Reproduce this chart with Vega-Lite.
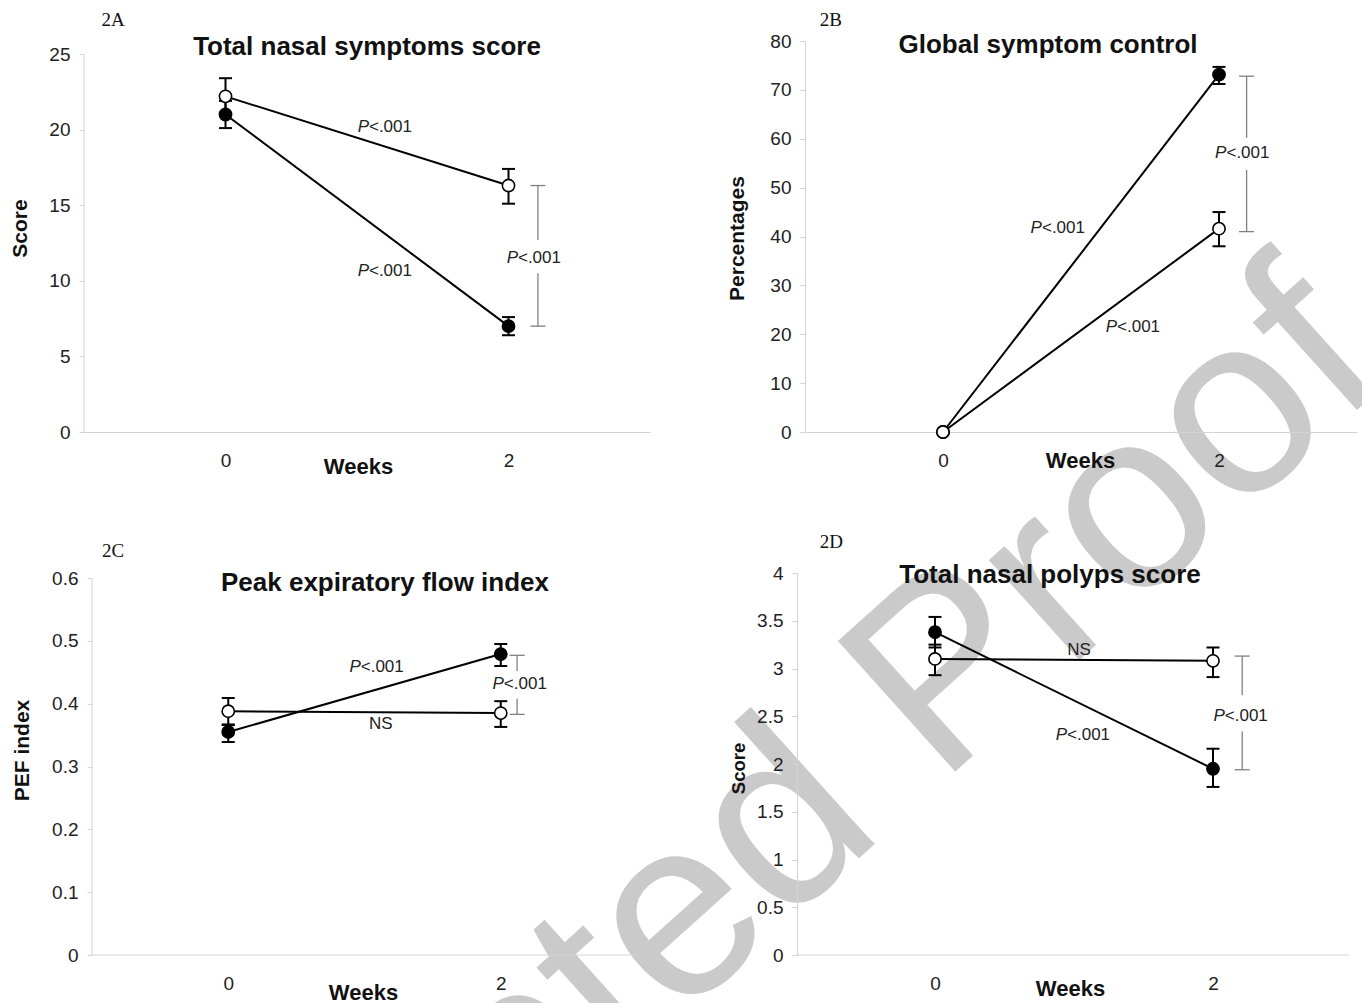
{
  "$schema": "https://vega.github.io/schema/vega-lite/v6.json",
  "padding": {"left": -40, "top": 10, "right": 0, "bottom": 0},
  "background": "white",
  "datasets": {
    "pts": [
      {"p": "A", "g": "filled", "x": 0, "y": 21.0, "lo": 20.1, "hi": 21.9},
      {"p": "A", "g": "filled", "x": 2, "y": 7.0, "lo": 6.4, "hi": 7.6},
      {"p": "A", "g": "open", "x": 0, "y": 22.2, "lo": 21.1, "hi": 23.4},
      {"p": "A", "g": "open", "x": 2, "y": 16.3, "lo": 15.1, "hi": 17.4},
      {"p": "B", "g": "filled", "x": 0, "y": 0, "lo": 0, "hi": 0},
      {"p": "B", "g": "filled", "x": 2, "y": 73.1, "lo": 71.2, "hi": 74.7},
      {"p": "B", "g": "open", "x": 0, "y": 0, "lo": 0, "hi": 0},
      {"p": "B", "g": "open", "x": 2, "y": 41.6, "lo": 38.0, "hi": 45.0},
      {"p": "C", "g": "filled", "x": 0, "y": 0.355, "lo": 0.339, "hi": 0.367},
      {"p": "C", "g": "filled", "x": 2, "y": 0.479, "lo": 0.46, "hi": 0.495},
      {"p": "C", "g": "open", "x": 0, "y": 0.388, "lo": 0.366, "hi": 0.409},
      {"p": "C", "g": "open", "x": 2, "y": 0.385, "lo": 0.363, "hi": 0.404},
      {"p": "D", "g": "filled", "x": 0, "y": 3.38, "lo": 3.22, "hi": 3.54},
      {"p": "D", "g": "filled", "x": 2, "y": 1.95, "lo": 1.76, "hi": 2.16},
      {"p": "D", "g": "open", "x": 0, "y": 3.10, "lo": 2.93, "hi": 3.25},
      {"p": "D", "g": "open", "x": 2, "y": 3.08, "lo": 2.91, "hi": 3.22}
    ],
    "ann": [
      {"p": "A", "x": 1.127, "y": 20.2, "label": "P<.001"},
      {"p": "A", "x": 1.127, "y": 10.65, "label": "P<.001"},
      {"p": "A", "x": 2.18, "y": 11.5, "label": "P<.001"},
      {"p": "B", "x": 0.833, "y": 41.7, "label": "P<.001"},
      {"p": "B", "x": 1.377, "y": 21.5, "label": "P<.001"},
      {"p": "B", "x": 2.17, "y": 57.0, "label": "P<.001"},
      {"p": "C", "x": 1.09, "y": 0.458, "label": "P<.001"},
      {"p": "C", "x": 1.12, "y": 0.368, "label": "NS"},
      {"p": "C", "x": 2.14, "y": 0.431, "label": "P<.001"},
      {"p": "D", "x": 1.036, "y": 3.19, "label": "NS"},
      {"p": "D", "x": 1.065, "y": 2.30, "label": "P<.001"},
      {"p": "D", "x": 2.20, "y": 2.50, "label": "P<.001"}
    ],
    "brk": [
      {"p": "A", "x": 2.208, "top": 16.3, "gt": 12.7, "gb": 10.5, "bot": 7.0},
      {"p": "B", "x": 2.20, "top": 72.8, "gt": 60.2, "gb": 53.6, "bot": 41.0},
      {"p": "C", "x": 2.12, "top": 0.477, "gt": 0.452, "gb": 0.408, "bot": 0.383},
      {"p": "D", "x": 2.21, "top": 3.13, "gt": 2.72, "gb": 2.34, "bot": 1.94}
    ],
    "tags": [
      {"p": "A", "x": -0.795, "y": 27.25, "t": "2A"},
      {"p": "B", "x": -0.812, "y": 84.3, "t": "2B"},
      {"p": "C", "x": -0.846, "y": 0.643, "t": "2C"},
      {"p": "D", "x": -0.746, "y": 4.325, "t": "2D"}
    ],
    "axl": [
      {"p": "A", "x": -1, "y": 0, "x2": -1, "y2": 25},
      {"p": "C", "x": -1, "y": 0, "x2": -1, "y2": 0.6},
      {"p": "C", "x": -1, "y": 0, "x2": 3, "y2": 0},
      {"p": "D", "x": -1, "y": 0, "x2": 2.978, "y2": 0}
    ],
    "wm": [
      {"w": "Accepted Proof", "x": 3.671, "y": -34.99}
    ]
  },
  "columns": 2,
  "align": "none",
  "bounds": "flush",
  "spacing": {"row": 141, "column": 155},
  "concat": [
    {
      "width": 566,
      "height": 391,
      "title": {"text": "Total nasal symptoms score", "dy": 53},
      "encoding": {
        "x": {"field": "x", "type": "quantitative", "title": "Weeks", "scale": {"domain": [-1, 3], "nice": false, "zero": false}, "axis": {"values": [0, 2], "format": "d", "title": "Weeks", "titleX": 274, "titleY": 34}},
        "y": {"field": "y", "type": "quantitative", "title": "Score", "scale": {"domain": [0, 25.86], "nice": false, "zero": false}, "axis": {"values": [0, 5, 10, 15, 20, 25], "domain": false, "title": "Score", "titleX": -64, "titleY": 187}}
      },
      "layer": [
        {"data": {"name": "wm"}, "mark": {"type": "text", "font": "Liberation Sans", "fontSize": 255, "angle": -42, "align": "center", "baseline": "alphabetic", "color": "#cacaca"}, "encoding": {"text": {"field": "w"}}},
        {"data": {"name": "axl"}, "transform": [{"filter": "datum.p==='A'"}], "mark": {"type": "rule", "color": "#d4d4d4", "strokeWidth": 1}, "encoding": {"x2": {"field": "x2"}, "y2": {"field": "y2"}}},
        {"data": {"name": "pts"}, "transform": [{"filter": "datum.p==='A'"}], "mark": {"type": "line", "color": "#000", "strokeWidth": 2}, "encoding": {"detail": {"field": "g"}, "order": {"field": "x"}}},
        {"data": {"name": "pts"}, "transform": [{"filter": "datum.p==='A'"}], "mark": {"type": "rule", "color": "#000", "strokeWidth": 2},
         "encoding": {"y": {"field": "lo", "type": "quantitative", "title": "Score", "scale": {"domain": [0, 25.86], "nice": false, "zero": false}}, "y2": {"field": "hi"}}},
        {"data": {"name": "pts"}, "transform": [{"filter": "datum.p==='A'"}], "mark": {"type": "tick", "orient": "horizontal", "size": 13, "thickness": 2, "color": "#000", "opacity": 1},
         "encoding": {"y": {"field": "lo", "type": "quantitative", "title": "Score", "scale": {"domain": [0, 25.86], "nice": false, "zero": false}}}},
        {"data": {"name": "pts"}, "transform": [{"filter": "datum.p==='A'"}], "mark": {"type": "tick", "orient": "horizontal", "size": 13, "thickness": 2, "color": "#000", "opacity": 1},
         "encoding": {"y": {"field": "hi", "type": "quantitative", "title": "Score", "scale": {"domain": [0, 25.86], "nice": false, "zero": false}}}},
        {"data": {"name": "pts"}, "transform": [{"filter": "datum.p==='A'"}], "mark": {"type": "point", "shape": "circle", "size": 150, "filled": true, "stroke": "#000", "strokeWidth": 1.6, "opacity": 1},
         "encoding": {"fill": {"field": "g", "type": "nominal", "scale": {"domain": ["open", "filled"], "range": ["#ffffff", "#000000"]}, "legend": null}}},
        {"data": {"name": "brk"}, "transform": [{"filter": "datum.p==='A'"}], "mark": {"type": "rule", "color": "#808080", "strokeWidth": 1.3},
         "encoding": {"y": {"field": "top", "type": "quantitative", "title": "Score", "scale": {"domain": [0, 25.86], "nice": false, "zero": false}}, "y2": {"field": "gt"}}},
        {"data": {"name": "brk"}, "transform": [{"filter": "datum.p==='A'"}], "mark": {"type": "rule", "color": "#808080", "strokeWidth": 1.3},
         "encoding": {"y": {"field": "gb", "type": "quantitative", "title": "Score", "scale": {"domain": [0, 25.86], "nice": false, "zero": false}}, "y2": {"field": "bot"}}},
        {"data": {"name": "brk"}, "transform": [{"filter": "datum.p==='A'"}], "mark": {"type": "tick", "orient": "horizontal", "size": 15, "thickness": 1.3, "color": "#808080", "opacity": 1},
         "encoding": {"y": {"field": "top", "type": "quantitative", "title": "Score", "scale": {"domain": [0, 25.86], "nice": false, "zero": false}}}},
        {"data": {"name": "brk"}, "transform": [{"filter": "datum.p==='A'"}], "mark": {"type": "tick", "orient": "horizontal", "size": 15, "thickness": 1.3, "color": "#808080", "opacity": 1},
         "encoding": {"y": {"field": "bot", "type": "quantitative", "title": "Score", "scale": {"domain": [0, 25.86], "nice": false, "zero": false}}}},
        {"data": {"name": "ann"}, "transform": [{"filter": "datum.p==='A' && datum.label==='P<.001'"}], "mark": {"type": "text", "text": "P", "fontStyle": "italic", "fontSize": 17, "align": "right", "baseline": "middle", "dx": -16, "color": "#222"}},
        {"data": {"name": "ann"}, "transform": [{"filter": "datum.p==='A' && datum.label==='P<.001'"}], "mark": {"type": "text", "text": "<.001", "fontSize": 17, "align": "left", "baseline": "middle", "dx": -16, "color": "#222"}},
        {"data": {"name": "tags"}, "transform": [{"filter": "datum.p==='A'"}], "mark": {"type": "text", "font": "Liberation Serif", "fontSize": 19, "align": "center", "baseline": "middle", "color": "#111"}, "encoding": {"text": {"field": "t"}}}
      ]
    },
    {
      "width": 552,
      "height": 391,
      "title": {"text": "Global symptom control", "dy": 51, "dx": -33},
      "encoding": {
        "x": {"field": "x", "type": "quantitative", "title": "Weeks", "scale": {"domain": [-1, 3], "nice": false, "zero": false}, "axis": {"values": [0, 2], "format": "d", "title": "Weeks", "titleX": 275, "titleY": 28}},
        "y": {"field": "y", "type": "quantitative", "title": "Percentages", "scale": {"domain": [0, 80], "nice": false, "zero": false}, "axis": {"values": [0, 10, 20, 30, 40, 50, 60, 70, 80], "title": "Percentages", "titleX": -68, "titleY": 197}}
      },
      "layer": [
        {"data": {"name": "pts"}, "transform": [{"filter": "datum.p==='B'"}], "mark": {"type": "line", "color": "#000", "strokeWidth": 2}, "encoding": {"detail": {"field": "g"}, "order": {"field": "x"}}},
        {"data": {"name": "pts"}, "transform": [{"filter": "datum.p==='B'"}], "mark": {"type": "rule", "color": "#000", "strokeWidth": 2},
         "encoding": {"y": {"field": "lo", "type": "quantitative", "title": "Percentages", "scale": {"domain": [0, 80], "nice": false, "zero": false}}, "y2": {"field": "hi"}}},
        {"data": {"name": "pts"}, "transform": [{"filter": "datum.p==='B'"}], "mark": {"type": "tick", "orient": "horizontal", "size": 13, "thickness": 2, "color": "#000", "opacity": 1},
         "encoding": {"y": {"field": "lo", "type": "quantitative", "title": "Percentages", "scale": {"domain": [0, 80], "nice": false, "zero": false}}}},
        {"data": {"name": "pts"}, "transform": [{"filter": "datum.p==='B'"}], "mark": {"type": "tick", "orient": "horizontal", "size": 13, "thickness": 2, "color": "#000", "opacity": 1},
         "encoding": {"y": {"field": "hi", "type": "quantitative", "title": "Percentages", "scale": {"domain": [0, 80], "nice": false, "zero": false}}}},
        {"data": {"name": "pts"}, "transform": [{"filter": "datum.p==='B'"}], "mark": {"type": "point", "shape": "circle", "size": 150, "filled": true, "stroke": "#000", "strokeWidth": 1.6, "opacity": 1},
         "encoding": {"fill": {"field": "g", "type": "nominal", "scale": {"domain": ["open", "filled"], "range": ["#ffffff", "#000000"]}, "legend": null}}},
        {"data": {"name": "brk"}, "transform": [{"filter": "datum.p==='B'"}], "mark": {"type": "rule", "color": "#808080", "strokeWidth": 1.3},
         "encoding": {"y": {"field": "top", "type": "quantitative", "title": "Percentages", "scale": {"domain": [0, 80], "nice": false, "zero": false}}, "y2": {"field": "gt"}}},
        {"data": {"name": "brk"}, "transform": [{"filter": "datum.p==='B'"}], "mark": {"type": "rule", "color": "#808080", "strokeWidth": 1.3},
         "encoding": {"y": {"field": "gb", "type": "quantitative", "title": "Percentages", "scale": {"domain": [0, 80], "nice": false, "zero": false}}, "y2": {"field": "bot"}}},
        {"data": {"name": "brk"}, "transform": [{"filter": "datum.p==='B'"}], "mark": {"type": "tick", "orient": "horizontal", "size": 15, "thickness": 1.3, "color": "#808080", "opacity": 1},
         "encoding": {"y": {"field": "top", "type": "quantitative", "title": "Percentages", "scale": {"domain": [0, 80], "nice": false, "zero": false}}}},
        {"data": {"name": "brk"}, "transform": [{"filter": "datum.p==='B'"}], "mark": {"type": "tick", "orient": "horizontal", "size": 15, "thickness": 1.3, "color": "#808080", "opacity": 1},
         "encoding": {"y": {"field": "bot", "type": "quantitative", "title": "Percentages", "scale": {"domain": [0, 80], "nice": false, "zero": false}}}},
        {"data": {"name": "ann"}, "transform": [{"filter": "datum.p==='B' && datum.label==='P<.001'"}], "mark": {"type": "text", "text": "P", "fontStyle": "italic", "fontSize": 17, "align": "right", "baseline": "middle", "dx": -16, "color": "#222"}},
        {"data": {"name": "ann"}, "transform": [{"filter": "datum.p==='B' && datum.label==='P<.001'"}], "mark": {"type": "text", "text": "<.001", "fontSize": 17, "align": "left", "baseline": "middle", "dx": -16, "color": "#222"}},
        {"data": {"name": "tags"}, "transform": [{"filter": "datum.p==='B'"}], "mark": {"type": "text", "font": "Liberation Serif", "fontSize": 19, "align": "center", "baseline": "middle", "color": "#111"}, "encoding": {"text": {"field": "t"}}}
      ]
    },
    {
      "width": 558,
      "height": 382,
      "title": {"text": "Peak expiratory flow index", "dy": 58, "dx": 22},
      "encoding": {
        "x": {"field": "x", "type": "quantitative", "title": "Weeks", "scale": {"domain": [-1.0587, 3.0367], "nice": false, "zero": false}, "axis": {"values": [0, 2], "format": "d", "domain": false, "title": "Weeks", "titleX": 279, "titleY": 37}},
        "y": {"field": "y", "type": "quantitative", "title": "PEF index", "scale": {"domain": [0, 0.608], "nice": false, "zero": false}, "axis": {"values": [0, 0.1, 0.2, 0.3, 0.4, 0.5, 0.6], "format": "~g", "domain": false, "offset": -8, "title": "PEF index", "titleX": -70, "titleY": 177}}
      },
      "layer": [
        {"data": {"name": "axl"}, "transform": [{"filter": "datum.p==='C'"}], "mark": {"type": "rule", "color": "#d4d4d4", "strokeWidth": 1}, "encoding": {"x2": {"field": "x2"}, "y2": {"field": "y2"}}},
        {"data": {"name": "pts"}, "transform": [{"filter": "datum.p==='C'"}], "mark": {"type": "line", "color": "#000", "strokeWidth": 2}, "encoding": {"detail": {"field": "g"}, "order": {"field": "x"}}},
        {"data": {"name": "pts"}, "transform": [{"filter": "datum.p==='C'"}], "mark": {"type": "rule", "color": "#000", "strokeWidth": 2},
         "encoding": {"y": {"field": "lo", "type": "quantitative", "title": "PEF index", "scale": {"domain": [0, 0.608], "nice": false, "zero": false}}, "y2": {"field": "hi"}}},
        {"data": {"name": "pts"}, "transform": [{"filter": "datum.p==='C'"}], "mark": {"type": "tick", "orient": "horizontal", "size": 13, "thickness": 2, "color": "#000", "opacity": 1},
         "encoding": {"y": {"field": "lo", "type": "quantitative", "title": "PEF index", "scale": {"domain": [0, 0.608], "nice": false, "zero": false}}}},
        {"data": {"name": "pts"}, "transform": [{"filter": "datum.p==='C'"}], "mark": {"type": "tick", "orient": "horizontal", "size": 13, "thickness": 2, "color": "#000", "opacity": 1},
         "encoding": {"y": {"field": "hi", "type": "quantitative", "title": "PEF index", "scale": {"domain": [0, 0.608], "nice": false, "zero": false}}}},
        {"data": {"name": "pts"}, "transform": [{"filter": "datum.p==='C'"}], "mark": {"type": "point", "shape": "circle", "size": 150, "filled": true, "stroke": "#000", "strokeWidth": 1.6, "opacity": 1},
         "encoding": {"fill": {"field": "g", "type": "nominal", "scale": {"domain": ["open", "filled"], "range": ["#ffffff", "#000000"]}, "legend": null}}},
        {"data": {"name": "brk"}, "transform": [{"filter": "datum.p==='C'"}], "mark": {"type": "rule", "color": "#808080", "strokeWidth": 1.3},
         "encoding": {"y": {"field": "top", "type": "quantitative", "title": "PEF index", "scale": {"domain": [0, 0.608], "nice": false, "zero": false}}, "y2": {"field": "gt"}}},
        {"data": {"name": "brk"}, "transform": [{"filter": "datum.p==='C'"}], "mark": {"type": "rule", "color": "#808080", "strokeWidth": 1.3},
         "encoding": {"y": {"field": "gb", "type": "quantitative", "title": "PEF index", "scale": {"domain": [0, 0.608], "nice": false, "zero": false}}, "y2": {"field": "bot"}}},
        {"data": {"name": "brk"}, "transform": [{"filter": "datum.p==='C'"}], "mark": {"type": "tick", "orient": "horizontal", "size": 15, "thickness": 1.3, "color": "#808080", "opacity": 1},
         "encoding": {"y": {"field": "top", "type": "quantitative", "title": "PEF index", "scale": {"domain": [0, 0.608], "nice": false, "zero": false}}}},
        {"data": {"name": "brk"}, "transform": [{"filter": "datum.p==='C'"}], "mark": {"type": "tick", "orient": "horizontal", "size": 15, "thickness": 1.3, "color": "#808080", "opacity": 1},
         "encoding": {"y": {"field": "bot", "type": "quantitative", "title": "PEF index", "scale": {"domain": [0, 0.608], "nice": false, "zero": false}}}},
        {"data": {"name": "ann"}, "transform": [{"filter": "datum.p==='C' && datum.label==='P<.001'"}], "mark": {"type": "text", "text": "P", "fontStyle": "italic", "fontSize": 17, "align": "right", "baseline": "middle", "dx": -16, "color": "#222"}},
        {"data": {"name": "ann"}, "transform": [{"filter": "datum.p==='C' && datum.label==='P<.001'"}], "mark": {"type": "text", "text": "<.001", "fontSize": 17, "align": "left", "baseline": "middle", "dx": -16, "color": "#222"}},
        {"data": {"name": "ann"}, "transform": [{"filter": "datum.p==='C' && datum.label==='NS'"}], "mark": {"type": "text", "fontSize": 17, "align": "center", "baseline": "middle", "color": "#222"}, "encoding": {"text": {"field": "label"}}},
        {"data": {"name": "tags"}, "transform": [{"filter": "datum.p==='C'"}], "mark": {"type": "text", "font": "Liberation Serif", "fontSize": 19, "align": "center", "baseline": "middle", "color": "#111"}, "encoding": {"text": {"field": "t"}}}
      ]
    },
    {
      "width": 544,
      "height": 382,
      "title": {"text": "Total nasal polyps score", "dy": 59, "dx": -27},
      "encoding": {
        "x": {"field": "x", "type": "quantitative", "title": "Weeks", "scale": {"domain": [-0.9353, 2.9784], "nice": false, "zero": false}, "axis": {"values": [0, 2], "format": "d", "domain": false, "title": "Weeks", "titleX": 265, "titleY": 33}},
        "y": {"field": "y", "type": "quantitative", "title": "Score", "scale": {"domain": [0, 4], "nice": false, "zero": false}, "axis": {"values": [0, 0.5, 1, 1.5, 2, 2.5, 3, 3.5, 4], "format": "~g", "offset": 8, "title": "Score", "titleFontSize": 18.5, "titleX": -59, "titleY": 195}}
      },
      "layer": [
        {"data": {"name": "axl"}, "transform": [{"filter": "datum.p==='D'"}], "mark": {"type": "rule", "color": "#d4d4d4", "strokeWidth": 1}, "encoding": {"x2": {"field": "x2"}, "y2": {"field": "y2"}}},
        {"data": {"name": "pts"}, "transform": [{"filter": "datum.p==='D'"}], "mark": {"type": "line", "color": "#000", "strokeWidth": 2}, "encoding": {"detail": {"field": "g"}, "order": {"field": "x"}}},
        {"data": {"name": "pts"}, "transform": [{"filter": "datum.p==='D'"}], "mark": {"type": "rule", "color": "#000", "strokeWidth": 2},
         "encoding": {"y": {"field": "lo", "type": "quantitative", "title": "Score", "scale": {"domain": [0, 4], "nice": false, "zero": false}}, "y2": {"field": "hi"}}},
        {"data": {"name": "pts"}, "transform": [{"filter": "datum.p==='D'"}], "mark": {"type": "tick", "orient": "horizontal", "size": 13, "thickness": 2, "color": "#000", "opacity": 1},
         "encoding": {"y": {"field": "lo", "type": "quantitative", "title": "Score", "scale": {"domain": [0, 4], "nice": false, "zero": false}}}},
        {"data": {"name": "pts"}, "transform": [{"filter": "datum.p==='D'"}], "mark": {"type": "tick", "orient": "horizontal", "size": 13, "thickness": 2, "color": "#000", "opacity": 1},
         "encoding": {"y": {"field": "hi", "type": "quantitative", "title": "Score", "scale": {"domain": [0, 4], "nice": false, "zero": false}}}},
        {"data": {"name": "pts"}, "transform": [{"filter": "datum.p==='D'"}], "mark": {"type": "point", "shape": "circle", "size": 150, "filled": true, "stroke": "#000", "strokeWidth": 1.6, "opacity": 1},
         "encoding": {"fill": {"field": "g", "type": "nominal", "scale": {"domain": ["open", "filled"], "range": ["#ffffff", "#000000"]}, "legend": null}}},
        {"data": {"name": "brk"}, "transform": [{"filter": "datum.p==='D'"}], "mark": {"type": "rule", "color": "#808080", "strokeWidth": 1.3},
         "encoding": {"y": {"field": "top", "type": "quantitative", "title": "Score", "scale": {"domain": [0, 4], "nice": false, "zero": false}}, "y2": {"field": "gt"}}},
        {"data": {"name": "brk"}, "transform": [{"filter": "datum.p==='D'"}], "mark": {"type": "rule", "color": "#808080", "strokeWidth": 1.3},
         "encoding": {"y": {"field": "gb", "type": "quantitative", "title": "Score", "scale": {"domain": [0, 4], "nice": false, "zero": false}}, "y2": {"field": "bot"}}},
        {"data": {"name": "brk"}, "transform": [{"filter": "datum.p==='D'"}], "mark": {"type": "tick", "orient": "horizontal", "size": 15, "thickness": 1.3, "color": "#808080", "opacity": 1},
         "encoding": {"y": {"field": "top", "type": "quantitative", "title": "Score", "scale": {"domain": [0, 4], "nice": false, "zero": false}}}},
        {"data": {"name": "brk"}, "transform": [{"filter": "datum.p==='D'"}], "mark": {"type": "tick", "orient": "horizontal", "size": 15, "thickness": 1.3, "color": "#808080", "opacity": 1},
         "encoding": {"y": {"field": "bot", "type": "quantitative", "title": "Score", "scale": {"domain": [0, 4], "nice": false, "zero": false}}}},
        {"data": {"name": "ann"}, "transform": [{"filter": "datum.p==='D' && datum.label==='P<.001'"}], "mark": {"type": "text", "text": "P", "fontStyle": "italic", "fontSize": 17, "align": "right", "baseline": "middle", "dx": -16, "color": "#222"}},
        {"data": {"name": "ann"}, "transform": [{"filter": "datum.p==='D' && datum.label==='P<.001'"}], "mark": {"type": "text", "text": "<.001", "fontSize": 17, "align": "left", "baseline": "middle", "dx": -16, "color": "#222"}},
        {"data": {"name": "ann"}, "transform": [{"filter": "datum.p==='D' && datum.label==='NS'"}], "mark": {"type": "text", "fontSize": 17, "align": "center", "baseline": "middle", "color": "#222"}, "encoding": {"text": {"field": "label"}}},
        {"data": {"name": "tags"}, "transform": [{"filter": "datum.p==='D'"}], "mark": {"type": "text", "font": "Liberation Serif", "fontSize": 19, "align": "center", "baseline": "middle", "color": "#111"}, "encoding": {"text": {"field": "t"}}}
      ]
    }
  ],
  "config": {
    "view": {"stroke": null},
    "font": "Liberation Sans",
    "title": {"font": "Liberation Sans", "fontSize": 26, "fontWeight": "bold", "color": "#111", "anchor": "middle", "frame": "group"},
    "axis": {"grid": false, "domainColor": "#d4d4d4", "domainWidth": 1, "tickColor": "#d4d4d4", "labelColor": "#222", "labelFont": "Liberation Sans", "labelFontSize": 19, "titleFont": "Liberation Sans", "titleFontWeight": "bold", "titleColor": "#111", "titleFontSize": 21},
    "axisX": {"ticks": false, "tickSize": 0, "labelPadding": 28, "labelBaseline": "middle", "titleBaseline": "middle", "titleAlign": "center", "titleAngle": 0, "titleFontSize": 22, "labelFlush": false, "labelOverlap": false},
    "axisY": {"ticks": true, "tickSize": 5, "labelPadding": 9, "titleBaseline": "middle", "titleAlign": "center", "titleAngle": -90}
  }
}
